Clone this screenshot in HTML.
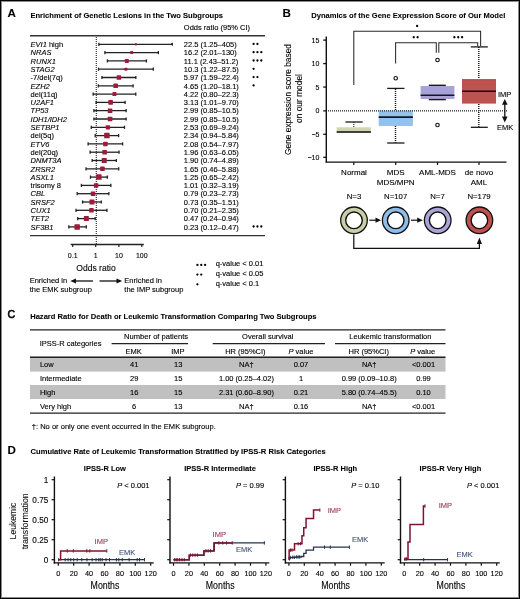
<!DOCTYPE html>
<html><head><meta charset="utf-8"><title>Figure</title>
<style>
html,body{margin:0;padding:0;background:#fff;}
body{width:520px;height:599px;position:relative;overflow:hidden;font-family:"Liberation Sans", sans-serif;}
#frame{position:absolute;left:0;top:0;width:518px;height:597px;border:1px solid #000;box-shadow:inset 0 0 0 1px #8c8c8c;}
svg{position:absolute;left:0;top:0;will-change:transform;}
text{font-family:"Liberation Sans", sans-serif;stroke-width:0.12px;}
</style></head><body>
<div id="frame"></div>
<svg width="520" height="599" viewBox="0 0 520 599">
<text x="7.5" y="17.0" font-size="11.6" font-weight="bold" font-style="normal" text-anchor="start" fill="#000" stroke="#000"  style="stroke-width:0.08px">A</text>
<text x="282.6" y="17.4" font-size="11.6" font-weight="bold" font-style="normal" text-anchor="start" fill="#000" stroke="#000"  style="stroke-width:0.08px">B</text>
<text x="7.6" y="318.0" font-size="11.7" font-weight="normal" font-style="normal" text-anchor="start" fill="#000" stroke="#000" style="stroke-width:0.6px" textLength="7.7" lengthAdjust="spacingAndGlyphs">C</text>
<text x="7.4" y="453.6" font-size="11.6" font-weight="bold" font-style="normal" text-anchor="start" fill="#000" stroke="#000"  style="stroke-width:0.08px">D</text>
<text x="30.4" y="17.5" font-size="7.6" font-weight="bold" font-style="normal" text-anchor="start" fill="#000" stroke="#000" textLength="192.6" lengthAdjust="spacingAndGlyphs" style="stroke-width:0.08px">Enrichment of Genetic Lesions in the Two Subgroups</text>
<text x="311.3" y="17.6" font-size="7.6" font-weight="bold" font-style="normal" text-anchor="start" fill="#000" stroke="#000" textLength="194" lengthAdjust="spacingAndGlyphs" style="stroke-width:0.08px">Dynamics of the Gene Expression Score of Our Model</text>
<text x="30.2" y="318.6" font-size="7.6" font-weight="bold" font-style="normal" text-anchor="start" fill="#000" stroke="#000" textLength="286.3" lengthAdjust="spacingAndGlyphs" style="stroke-width:0.08px">Hazard Ratio for Death or Leukemic Transformation Comparing Two Subgroups</text>
<text x="30.6" y="453.6" font-size="7.6" font-weight="bold" font-style="normal" text-anchor="start" fill="#000" stroke="#000" textLength="295" lengthAdjust="spacingAndGlyphs" style="stroke-width:0.08px">Cumulative Rate of Leukemic Transformation Stratified by IPSS-R Risk Categories</text>
<text x="183.8" y="30" font-size="7.5" font-weight="normal" font-style="normal" text-anchor="start" fill="#000" stroke="#000" >Odds ratio (95% CI)</text>
<line x1="30" y1="35.8" x2="265" y2="35.8" stroke="#333" stroke-width="1.4" />
<line x1="30" y1="235.6" x2="265" y2="235.6" stroke="#333" stroke-width="1.4" />
<line x1="96.3" y1="37" x2="96.3" y2="244" stroke="#222" stroke-width="1.1" stroke-dasharray="1 1"/>
<text x="30.6" y="47.05" font-size="7.5" fill="#000" stroke="#000"><tspan font-style="italic">EVI1</tspan><tspan font-style="normal"> high</tspan></text>
<text x="183.8" y="47.05" font-size="7.5" font-weight="normal" font-style="normal" text-anchor="start" fill="#000" stroke="#000" >22.5 (1.25–405)</text>
<circle cx="253.60" cy="43.90" r="1.15" fill="#000"/>
<circle cx="257.45" cy="43.90" r="1.15" fill="#000"/>
<line x1="98.86" y1="44.30" x2="172.92" y2="44.30" stroke="#222" stroke-width="1.3" />
<line x1="98.86" y1="42.70" x2="98.86" y2="45.90" stroke="#222" stroke-width="1.3" />
<path d="M170.12,44.30 L172.92,42.50 L172.92,46.10 Z" fill="#222"/>
<rect x="134.79" y="43.20" width="2.2" height="2.2" rx="0.6" fill="#9e1b3c"/>
<text x="30.6" y="55.35" font-size="7.5" fill="#000" stroke="#000"><tspan font-style="italic">NRAS</tspan></text>
<text x="183.8" y="55.35" font-size="7.5" font-weight="normal" font-style="normal" text-anchor="start" fill="#000" stroke="#000" >16.2 (2.01–130)</text>
<circle cx="253.60" cy="52.20" r="1.15" fill="#000"/>
<circle cx="257.45" cy="52.20" r="1.15" fill="#000"/>
<circle cx="261.30" cy="52.20" r="1.15" fill="#000"/>
<line x1="104.94" y1="52.60" x2="158.36" y2="52.60" stroke="#222" stroke-width="1.3" />
<line x1="104.94" y1="51.00" x2="104.94" y2="54.20" stroke="#222" stroke-width="1.3" />
<line x1="158.36" y1="51.00" x2="158.36" y2="54.20" stroke="#222" stroke-width="1.3" />
<rect x="130.18" y="51.10" width="3" height="3" rx="0.6" fill="#9e1b3c"/>
<text x="30.6" y="63.65" font-size="7.5" fill="#000" stroke="#000"><tspan font-style="italic">RUNX1</tspan></text>
<text x="183.8" y="63.65" font-size="7.5" font-weight="normal" font-style="normal" text-anchor="start" fill="#000" stroke="#000" >11.1 (2.43–51.2)</text>
<circle cx="253.60" cy="60.50" r="1.15" fill="#000"/>
<circle cx="257.45" cy="60.50" r="1.15" fill="#000"/>
<circle cx="261.30" cy="60.50" r="1.15" fill="#000"/>
<line x1="107.38" y1="60.90" x2="146.42" y2="60.90" stroke="#222" stroke-width="1.3" />
<line x1="107.38" y1="59.30" x2="107.38" y2="62.50" stroke="#222" stroke-width="1.3" />
<line x1="146.42" y1="59.30" x2="146.42" y2="62.50" stroke="#222" stroke-width="1.3" />
<rect x="124.84" y="58.90" width="4" height="4" rx="0.6" fill="#9e1b3c"/>
<text x="30.6" y="71.95" font-size="7.5" fill="#000" stroke="#000"><tspan font-style="italic">STAG2</tspan></text>
<text x="183.8" y="71.95" font-size="7.5" font-weight="normal" font-style="normal" text-anchor="start" fill="#000" stroke="#000" >10.3 (1.22–87.5)</text>
<circle cx="253.60" cy="68.80" r="1.15" fill="#000"/>
<line x1="98.55" y1="69.20" x2="153.29" y2="69.20" stroke="#222" stroke-width="1.3" />
<line x1="98.55" y1="67.60" x2="98.55" y2="70.80" stroke="#222" stroke-width="1.3" />
<line x1="153.29" y1="67.60" x2="153.29" y2="70.80" stroke="#222" stroke-width="1.3" />
<rect x="124.38" y="67.70" width="3" height="3" rx="0.6" fill="#9e1b3c"/>
<text x="30.6" y="80.25" font-size="7.5" fill="#000" stroke="#000"><tspan font-style="normal">-7/del(7q)</tspan></text>
<text x="183.8" y="80.25" font-size="7.5" font-weight="normal" font-style="normal" text-anchor="start" fill="#000" stroke="#000" >5.97 (1.59–22.4)</text>
<circle cx="253.60" cy="77.10" r="1.15" fill="#000"/>
<circle cx="257.45" cy="77.10" r="1.15" fill="#000"/>
<line x1="101.94" y1="77.50" x2="135.83" y2="77.50" stroke="#222" stroke-width="1.3" />
<line x1="101.94" y1="75.90" x2="101.94" y2="79.10" stroke="#222" stroke-width="1.3" />
<line x1="135.83" y1="75.90" x2="135.83" y2="79.10" stroke="#222" stroke-width="1.3" />
<rect x="116.64" y="75.25" width="4.5" height="4.5" rx="0.6" fill="#9e1b3c"/>
<text x="30.6" y="88.55" font-size="7.5" fill="#000" stroke="#000"><tspan font-style="italic">EZH2</tspan></text>
<text x="183.8" y="88.55" font-size="7.5" font-weight="normal" font-style="normal" text-anchor="start" fill="#000" stroke="#000" >4.65 (1.20–18.1)</text>
<circle cx="253.60" cy="85.40" r="1.15" fill="#000"/>
<line x1="98.34" y1="85.80" x2="133.10" y2="85.80" stroke="#222" stroke-width="1.3" />
<line x1="98.34" y1="84.20" x2="98.34" y2="87.40" stroke="#222" stroke-width="1.3" />
<line x1="133.10" y1="84.20" x2="133.10" y2="87.40" stroke="#222" stroke-width="1.3" />
<rect x="113.44" y="83.55" width="4.5" height="4.5" rx="0.6" fill="#9e1b3c"/>
<text x="30.6" y="96.85" font-size="7.5" fill="#000" stroke="#000"><tspan font-style="normal">del(11q)</tspan></text>
<text x="183.8" y="96.85" font-size="7.5" font-weight="normal" font-style="normal" text-anchor="start" fill="#000" stroke="#000" >4.22 (0.80–22.3)</text>
<line x1="93.14" y1="94.10" x2="135.77" y2="94.10" stroke="#222" stroke-width="1.3" />
<line x1="93.14" y1="92.50" x2="93.14" y2="95.70" stroke="#222" stroke-width="1.3" />
<line x1="135.77" y1="92.50" x2="135.77" y2="95.70" stroke="#222" stroke-width="1.3" />
<rect x="112.45" y="92.10" width="4" height="4" rx="0.6" fill="#9e1b3c"/>
<text x="30.6" y="105.15" font-size="7.5" fill="#000" stroke="#000"><tspan font-style="italic">U2AF1</tspan></text>
<text x="183.8" y="105.15" font-size="7.5" font-weight="normal" font-style="normal" text-anchor="start" fill="#000" stroke="#000" >3.13 (1.01–9.70)</text>
<line x1="96.13" y1="102.40" x2="125.11" y2="102.40" stroke="#222" stroke-width="1.3" />
<line x1="96.13" y1="100.80" x2="96.13" y2="104.00" stroke="#222" stroke-width="1.3" />
<line x1="125.11" y1="100.80" x2="125.11" y2="104.00" stroke="#222" stroke-width="1.3" />
<rect x="108.32" y="100.10" width="4.6" height="4.6" rx="0.6" fill="#9e1b3c"/>
<text x="30.6" y="113.45" font-size="7.5" fill="#000" stroke="#000"><tspan font-style="italic">TP53</tspan></text>
<text x="183.8" y="113.45" font-size="7.5" font-weight="normal" font-style="normal" text-anchor="start" fill="#000" stroke="#000" >2.99 (0.85–10.5)</text>
<line x1="93.92" y1="110.70" x2="126.13" y2="110.70" stroke="#222" stroke-width="1.3" />
<line x1="93.92" y1="109.10" x2="93.92" y2="112.30" stroke="#222" stroke-width="1.3" />
<line x1="126.13" y1="109.10" x2="126.13" y2="112.30" stroke="#222" stroke-width="1.3" />
<rect x="107.73" y="108.40" width="4.6" height="4.6" rx="0.6" fill="#9e1b3c"/>
<text x="30.6" y="121.75" font-size="7.5" fill="#000" stroke="#000"><tspan font-style="italic">IDH1/IDH2</tspan></text>
<text x="183.8" y="121.75" font-size="7.5" font-weight="normal" font-style="normal" text-anchor="start" fill="#000" stroke="#000" >2.99 (0.85–10.5)</text>
<line x1="93.92" y1="119.00" x2="126.13" y2="119.00" stroke="#222" stroke-width="1.3" />
<line x1="93.92" y1="117.40" x2="93.92" y2="120.60" stroke="#222" stroke-width="1.3" />
<line x1="126.13" y1="117.40" x2="126.13" y2="120.60" stroke="#222" stroke-width="1.3" />
<rect x="107.73" y="116.70" width="4.6" height="4.6" rx="0.6" fill="#9e1b3c"/>
<text x="30.6" y="130.05" font-size="7.5" fill="#000" stroke="#000"><tspan font-style="italic">SETBP1</tspan></text>
<text x="183.8" y="130.05" font-size="7.5" font-weight="normal" font-style="normal" text-anchor="start" fill="#000" stroke="#000" >2.53 (0.69–9.24)</text>
<line x1="91.25" y1="127.30" x2="124.49" y2="127.30" stroke="#222" stroke-width="1.3" />
<line x1="91.25" y1="125.70" x2="91.25" y2="128.90" stroke="#222" stroke-width="1.3" />
<line x1="124.49" y1="125.70" x2="124.49" y2="128.90" stroke="#222" stroke-width="1.3" />
<rect x="105.74" y="125.15" width="4.3" height="4.3" rx="0.6" fill="#9e1b3c"/>
<text x="30.6" y="138.35" font-size="7.5" fill="#000" stroke="#000"><tspan font-style="normal">del(5q)</tspan></text>
<text x="183.8" y="138.35" font-size="7.5" font-weight="normal" font-style="normal" text-anchor="start" fill="#000" stroke="#000" >2.34 (0.94–5.84)</text>
<line x1="95.21" y1="135.60" x2="118.61" y2="135.60" stroke="#222" stroke-width="1.3" />
<line x1="95.21" y1="134.00" x2="95.21" y2="137.20" stroke="#222" stroke-width="1.3" />
<line x1="118.61" y1="134.00" x2="118.61" y2="137.20" stroke="#222" stroke-width="1.3" />
<rect x="104.14" y="132.85" width="5.5" height="5.5" rx="0.6" fill="#9e1b3c"/>
<text x="30.6" y="146.65" font-size="7.5" fill="#000" stroke="#000"><tspan font-style="italic">ETV6</tspan></text>
<text x="183.8" y="146.65" font-size="7.5" font-weight="normal" font-style="normal" text-anchor="start" fill="#000" stroke="#000" >2.08 (0.54–7.97)</text>
<line x1="88.11" y1="143.90" x2="122.59" y2="143.90" stroke="#222" stroke-width="1.3" />
<line x1="88.11" y1="142.30" x2="88.11" y2="145.50" stroke="#222" stroke-width="1.3" />
<line x1="122.59" y1="142.30" x2="122.59" y2="145.50" stroke="#222" stroke-width="1.3" />
<rect x="103.13" y="141.65" width="4.5" height="4.5" rx="0.6" fill="#9e1b3c"/>
<text x="30.6" y="154.95" font-size="7.5" fill="#000" stroke="#000"><tspan font-style="normal">del(20q)</tspan></text>
<text x="183.8" y="154.95" font-size="7.5" font-weight="normal" font-style="normal" text-anchor="start" fill="#000" stroke="#000" >1.96 (0.63–6.05)</text>
<line x1="90.08" y1="152.20" x2="119.06" y2="152.20" stroke="#222" stroke-width="1.3" />
<line x1="90.08" y1="150.60" x2="90.08" y2="153.80" stroke="#222" stroke-width="1.3" />
<line x1="119.06" y1="150.60" x2="119.06" y2="153.80" stroke="#222" stroke-width="1.3" />
<rect x="102.32" y="149.90" width="4.6" height="4.6" rx="0.6" fill="#9e1b3c"/>
<text x="30.6" y="163.25" font-size="7.5" fill="#000" stroke="#000"><tspan font-style="italic">DNMT3A</tspan></text>
<text x="183.8" y="163.25" font-size="7.5" font-weight="normal" font-style="normal" text-anchor="start" fill="#000" stroke="#000" >1.90 (0.74–4.89)</text>
<line x1="92.14" y1="160.50" x2="116.33" y2="160.50" stroke="#222" stroke-width="1.3" />
<line x1="92.14" y1="158.90" x2="92.14" y2="162.10" stroke="#222" stroke-width="1.3" />
<line x1="116.33" y1="158.90" x2="116.33" y2="162.10" stroke="#222" stroke-width="1.3" />
<rect x="101.72" y="158.00" width="5" height="5" rx="0.6" fill="#9e1b3c"/>
<text x="30.6" y="171.55" font-size="7.5" fill="#000" stroke="#000"><tspan font-style="italic">ZRSR2</tspan></text>
<text x="183.8" y="171.55" font-size="7.5" font-weight="normal" font-style="normal" text-anchor="start" fill="#000" stroke="#000" >1.65 (0.46–5.88)</text>
<line x1="86.05" y1="168.80" x2="118.70" y2="168.80" stroke="#222" stroke-width="1.3" />
<line x1="86.05" y1="167.20" x2="86.05" y2="170.40" stroke="#222" stroke-width="1.3" />
<line x1="118.70" y1="167.20" x2="118.70" y2="170.40" stroke="#222" stroke-width="1.3" />
<rect x="100.17" y="166.55" width="4.5" height="4.5" rx="0.6" fill="#9e1b3c"/>
<text x="30.6" y="179.85" font-size="7.5" fill="#000" stroke="#000"><tspan font-style="italic">ASXL1</tspan></text>
<text x="183.8" y="179.85" font-size="7.5" font-weight="normal" font-style="normal" text-anchor="start" fill="#000" stroke="#000" >1.25 (0.65–2.42)</text>
<line x1="90.48" y1="177.10" x2="107.32" y2="177.10" stroke="#222" stroke-width="1.3" />
<line x1="90.48" y1="175.50" x2="90.48" y2="178.70" stroke="#222" stroke-width="1.3" />
<line x1="107.32" y1="175.50" x2="107.32" y2="178.70" stroke="#222" stroke-width="1.3" />
<rect x="96.11" y="174.35" width="5.5" height="5.5" rx="0.6" fill="#9e1b3c"/>
<text x="30.6" y="188.15" font-size="7.5" fill="#000" stroke="#000"><tspan font-style="normal">trisomy 8</tspan></text>
<text x="183.8" y="188.15" font-size="7.5" font-weight="normal" font-style="normal" text-anchor="start" fill="#000" stroke="#000" >1.01 (0.32–3.19)</text>
<line x1="81.40" y1="185.40" x2="110.86" y2="185.40" stroke="#222" stroke-width="1.3" />
<line x1="81.40" y1="183.80" x2="81.40" y2="187.00" stroke="#222" stroke-width="1.3" />
<line x1="110.86" y1="183.80" x2="110.86" y2="187.00" stroke="#222" stroke-width="1.3" />
<rect x="93.88" y="183.15" width="4.5" height="4.5" rx="0.6" fill="#9e1b3c"/>
<text x="30.6" y="196.45" font-size="7.5" fill="#000" stroke="#000"><tspan font-style="italic">CBL</tspan></text>
<text x="183.8" y="196.45" font-size="7.5" font-weight="normal" font-style="normal" text-anchor="start" fill="#000" stroke="#000" >0.79 (0.23–2.73)</text>
<line x1="77.17" y1="193.70" x2="108.87" y2="193.70" stroke="#222" stroke-width="1.3" />
<line x1="77.17" y1="192.10" x2="77.17" y2="195.30" stroke="#222" stroke-width="1.3" />
<line x1="108.87" y1="192.10" x2="108.87" y2="195.30" stroke="#222" stroke-width="1.3" />
<rect x="90.73" y="191.45" width="4.5" height="4.5" rx="0.6" fill="#9e1b3c"/>
<text x="30.6" y="204.75" font-size="7.5" fill="#000" stroke="#000"><tspan font-style="italic">SRSF2</tspan></text>
<text x="183.8" y="204.75" font-size="7.5" font-weight="normal" font-style="normal" text-anchor="start" fill="#000" stroke="#000" >0.73 (0.35–1.51)</text>
<line x1="82.55" y1="202.00" x2="101.28" y2="202.00" stroke="#222" stroke-width="1.3" />
<line x1="82.55" y1="200.40" x2="82.55" y2="203.60" stroke="#222" stroke-width="1.3" />
<line x1="101.28" y1="200.40" x2="101.28" y2="203.60" stroke="#222" stroke-width="1.3" />
<rect x="89.47" y="199.50" width="5" height="5" rx="0.6" fill="#9e1b3c"/>
<text x="30.6" y="213.05" font-size="7.5" fill="#000" stroke="#000"><tspan font-style="italic">CUX1</tspan></text>
<text x="183.8" y="213.05" font-size="7.5" font-weight="normal" font-style="normal" text-anchor="start" fill="#000" stroke="#000" >0.70 (0.21–2.35)</text>
<line x1="76.01" y1="210.30" x2="106.95" y2="210.30" stroke="#222" stroke-width="1.3" />
<line x1="76.01" y1="208.70" x2="76.01" y2="211.90" stroke="#222" stroke-width="1.3" />
<line x1="106.95" y1="208.70" x2="106.95" y2="211.90" stroke="#222" stroke-width="1.3" />
<rect x="89.18" y="208.05" width="4.5" height="4.5" rx="0.6" fill="#9e1b3c"/>
<text x="30.6" y="221.35" font-size="7.5" fill="#000" stroke="#000"><tspan font-style="italic">TET2</tspan></text>
<text x="183.8" y="221.35" font-size="7.5" font-weight="normal" font-style="normal" text-anchor="start" fill="#000" stroke="#000" >0.47 (0.24–0.94)</text>
<line x1="77.72" y1="218.60" x2="95.21" y2="218.60" stroke="#222" stroke-width="1.3" />
<line x1="77.72" y1="217.00" x2="77.72" y2="220.20" stroke="#222" stroke-width="1.3" />
<line x1="95.21" y1="217.00" x2="95.21" y2="220.20" stroke="#222" stroke-width="1.3" />
<rect x="83.83" y="216.10" width="5" height="5" rx="0.6" fill="#9e1b3c"/>
<text x="30.6" y="229.65" font-size="7.5" fill="#000" stroke="#000"><tspan font-style="italic">SF3B1</tspan></text>
<text x="183.8" y="229.65" font-size="7.5" font-weight="normal" font-style="normal" text-anchor="start" fill="#000" stroke="#000" >0.23 (0.12–0.47)</text>
<circle cx="253.60" cy="226.50" r="1.15" fill="#000"/>
<circle cx="257.45" cy="226.50" r="1.15" fill="#000"/>
<circle cx="261.30" cy="226.50" r="1.15" fill="#000"/>
<line x1="68.84" y1="226.90" x2="86.33" y2="226.90" stroke="#222" stroke-width="1.3" />
<line x1="68.84" y1="225.30" x2="68.84" y2="228.50" stroke="#222" stroke-width="1.3" />
<line x1="86.33" y1="225.30" x2="86.33" y2="228.50" stroke="#222" stroke-width="1.3" />
<rect x="74.42" y="224.15" width="5.5" height="5.5" rx="0.6" fill="#9e1b3c"/>
<line x1="70.7" y1="244.5" x2="143.8" y2="244.5" stroke="#222" stroke-width="1.3" />
<line x1="72.7" y1="244" x2="72.7" y2="247" stroke="#222" stroke-width="1.2" />
<text x="72.7" y="257.6" font-size="7" font-weight="normal" font-style="normal" text-anchor="middle" fill="#000" stroke="#000" >0.1</text>
<line x1="95.7" y1="244" x2="95.7" y2="247" stroke="#222" stroke-width="1.2" />
<text x="95.7" y="257.6" font-size="7" font-weight="normal" font-style="normal" text-anchor="middle" fill="#000" stroke="#000" >1</text>
<line x1="118.9" y1="244" x2="118.9" y2="247" stroke="#222" stroke-width="1.2" />
<text x="118.9" y="257.6" font-size="7" font-weight="normal" font-style="normal" text-anchor="middle" fill="#000" stroke="#000" >10</text>
<line x1="141.8" y1="244" x2="141.8" y2="247" stroke="#222" stroke-width="1.2" />
<text x="141.8" y="257.6" font-size="7" font-weight="normal" font-style="normal" text-anchor="middle" fill="#000" stroke="#000" >100</text>
<text x="96" y="271.1" font-size="9.8" font-weight="normal" font-style="normal" text-anchor="middle" fill="#000" stroke="#000" textLength="39.5" lengthAdjust="spacingAndGlyphs">Odds ratio</text>
<text x="29.7" y="283.2" font-size="7.5" font-weight="normal" font-style="normal" text-anchor="start" fill="#000" stroke="#000" >Enriched in</text>
<text x="29.7" y="292.1" font-size="7.5" font-weight="normal" font-style="normal" text-anchor="start" fill="#000" stroke="#000" >the EMK subgroup</text>
<text x="124.3" y="283.2" font-size="7.5" font-weight="normal" font-style="normal" text-anchor="start" fill="#000" stroke="#000" >Enriched in</text>
<text x="124.3" y="292.1" font-size="7.5" font-weight="normal" font-style="normal" text-anchor="start" fill="#000" stroke="#000" >the IMP subgroup</text>
<line x1="74" y1="281" x2="93" y2="281" stroke="#111" stroke-width="1.3" />
<path d="M70.3,281 L76,278.6 L76,283.4 Z" fill="#111"/>
<line x1="99.5" y1="281" x2="118.5" y2="281" stroke="#111" stroke-width="1.3" />
<path d="M122.2,281 L116.5,278.6 L116.5,283.4 Z" fill="#111"/>
<circle cx="197.40" cy="264.90" r="1.15" fill="#000"/>
<circle cx="201.25" cy="264.90" r="1.15" fill="#000"/>
<circle cx="205.10" cy="264.90" r="1.15" fill="#000"/>
<text x="215.7" y="266.3" font-size="7.5" font-weight="normal" font-style="normal" text-anchor="start" fill="#000" stroke="#000" >q-value &lt; 0.01</text>
<circle cx="197.40" cy="274.60" r="1.15" fill="#000"/>
<circle cx="201.25" cy="274.60" r="1.15" fill="#000"/>
<text x="215.7" y="276.0" font-size="7.5" font-weight="normal" font-style="normal" text-anchor="start" fill="#000" stroke="#000" >q-value &lt; 0.05</text>
<circle cx="197.40" cy="284.30" r="1.15" fill="#000"/>
<text x="215.7" y="285.7" font-size="7.5" font-weight="normal" font-style="normal" text-anchor="start" fill="#000" stroke="#000" >q-value &lt; 0.1</text>
<line x1="326.3" y1="36.5" x2="326.3" y2="162.4" stroke="#111" stroke-width="1.4" />
<line x1="323.2" y1="40.10" x2="326.3" y2="40.10" stroke="#111" stroke-width="1.3" />
<text x="319.4" y="42.60" font-size="7" font-weight="normal" font-style="normal" text-anchor="end" fill="#000" stroke="#000" >15</text>
<line x1="323.2" y1="63.60" x2="326.3" y2="63.60" stroke="#111" stroke-width="1.3" />
<text x="319.4" y="66.10" font-size="7" font-weight="normal" font-style="normal" text-anchor="end" fill="#000" stroke="#000" >10</text>
<line x1="323.2" y1="87.10" x2="326.3" y2="87.10" stroke="#111" stroke-width="1.3" />
<text x="319.4" y="89.60" font-size="7" font-weight="normal" font-style="normal" text-anchor="end" fill="#000" stroke="#000" >5</text>
<line x1="323.2" y1="110.85" x2="326.3" y2="110.85" stroke="#111" stroke-width="1.3" />
<text x="319.4" y="113.35" font-size="7" font-weight="normal" font-style="normal" text-anchor="end" fill="#000" stroke="#000" >0</text>
<line x1="323.2" y1="134.30" x2="326.3" y2="134.30" stroke="#111" stroke-width="1.3" />
<text x="319.4" y="136.80" font-size="7" font-weight="normal" font-style="normal" text-anchor="end" fill="#000" stroke="#000" >−5</text>
<line x1="323.2" y1="157.30" x2="326.3" y2="157.30" stroke="#111" stroke-width="1.3" />
<text x="319.4" y="159.80" font-size="7" font-weight="normal" font-style="normal" text-anchor="end" fill="#000" stroke="#000" >−10</text>
<line x1="325.6" y1="162.1" x2="506.5" y2="162.1" stroke="#111" stroke-width="1.4" />
<line x1="353.8" y1="162" x2="353.8" y2="165" stroke="#111" stroke-width="1.2" />
<line x1="395.7" y1="162" x2="395.7" y2="165" stroke="#111" stroke-width="1.2" />
<line x1="437.5" y1="162" x2="437.5" y2="165" stroke="#111" stroke-width="1.2" />
<line x1="479.0" y1="162" x2="479.0" y2="165" stroke="#111" stroke-width="1.2" />
<text transform="translate(291.2,99.5) rotate(-90)" font-size="8.4" text-anchor="middle" fill="#000" stroke="#000" textLength="111" lengthAdjust="spacingAndGlyphs">Gene expression score based</text>
<text transform="translate(302.3,98.5) rotate(-90)" font-size="8.4" text-anchor="middle" fill="#000" stroke="#000">on our model</text>
<line x1="353.8" y1="122" x2="353.8" y2="127" stroke="#222" stroke-width="1.1" stroke-dasharray="1 1"/>
<line x1="345.4" y1="122.0" x2="362.7" y2="122.0" stroke="#1a1a1a" stroke-width="1.3" />
<rect x="336.7" y="127.0" width="34.2" height="5.8" fill="#cfd3ad" />
<rect x="336.7" y="127.0" width="34.2" height="1.2" fill="#dfe2c6" />
<line x1="336.7" y1="132.1" x2="370.9" y2="132.1" stroke="#111" stroke-width="1.5" />
<line x1="395.5" y1="89" x2="395.5" y2="110" stroke="#111" stroke-width="1.45" stroke-dasharray="1 1"/>
<line x1="395.5" y1="126" x2="395.5" y2="143" stroke="#111" stroke-width="1.45" stroke-dasharray="1 1"/>
<rect x="378.7" y="110.5" width="34.2" height="15.5" fill="#95c2ec" />
<line x1="378.7" y1="117.1" x2="412.9" y2="117.1" stroke="#0d1a2a" stroke-width="1.6" />
<line x1="387.2" y1="88.4" x2="404.5" y2="88.4" stroke="#1a1a1a" stroke-width="1.3" />
<line x1="387.2" y1="143.0" x2="404.5" y2="143.0" stroke="#1a1a1a" stroke-width="1.3" />
<circle cx="395.7" cy="78.2" r="1.75" fill="none" stroke="#111" stroke-width="1.15"/>
<rect x="420.6" y="86.0" width="33.8" height="13.0" fill="#a9a2d6" />
<line x1="420.6" y1="95.2" x2="454.4" y2="95.2" stroke="#111530" stroke-width="1.6" />
<line x1="428.8" y1="85.3" x2="445.8" y2="85.3" stroke="#1a1a1a" stroke-width="1.4" />
<line x1="428.8" y1="99.6" x2="445.8" y2="99.6" stroke="#1a1a1a" stroke-width="1.4" />
<circle cx="437.5" cy="60" r="1.75" fill="none" stroke="#111" stroke-width="1.15"/>
<circle cx="437.5" cy="125" r="1.75" fill="none" stroke="#111" stroke-width="1.15"/>
<line x1="478.8" y1="47" x2="478.8" y2="79" stroke="#111" stroke-width="1.45" stroke-dasharray="1 1"/>
<line x1="478.8" y1="104" x2="478.8" y2="127" stroke="#111" stroke-width="1.45" stroke-dasharray="1 1"/>
<rect x="462" y="79.3" width="34" height="24.3" fill="#bd5350" />
<line x1="462" y1="79.8" x2="496" y2="79.8" stroke="#a84a48" stroke-width="1" />
<line x1="462" y1="91.2" x2="496" y2="91.2" stroke="#1a0a0a" stroke-width="1.6" />
<line x1="470.8" y1="46.9" x2="487.8" y2="46.9" stroke="#1a1a1a" stroke-width="1.3" />
<line x1="470.8" y1="127.3" x2="487.8" y2="127.3" stroke="#1a1a1a" stroke-width="1.3" />
<line x1="328" y1="110.85" x2="507" y2="110.85" stroke="#222" stroke-width="1.3" stroke-dasharray="1 1"/>
<path d="M353.8,85 L353.8,31.2 L480.6,31.2 L480.6,46" fill="none" stroke="#2a2a2a" stroke-width="1.05"/>
<path d="M395.6,63.5 L395.6,42.7 L436.3,42.7 L436.3,52.7" fill="none" stroke="#2a2a2a" stroke-width="1.05"/>
<path d="M438.8,52.7 L438.8,42.7 L477.7,42.7 L477.7,46" fill="none" stroke="#2a2a2a" stroke-width="1.05"/>
<circle cx="417.10" cy="26.00" r="1.15" fill="#000"/>
<circle cx="413.75" cy="37.25" r="1.15" fill="#000"/>
<circle cx="417.60" cy="37.25" r="1.15" fill="#000"/>
<circle cx="454.40" cy="37.25" r="1.15" fill="#000"/>
<circle cx="458.25" cy="37.25" r="1.15" fill="#000"/>
<circle cx="462.10" cy="37.25" r="1.15" fill="#000"/>
<text x="498" y="97" font-size="7.5" font-weight="normal" font-style="normal" text-anchor="start" fill="#000" stroke="#000" >IMP</text>
<text x="497" y="129.6" font-size="7.5" font-weight="normal" font-style="normal" text-anchor="start" fill="#000" stroke="#000" >EMK</text>
<line x1="504.8" y1="103" x2="504.8" y2="118" stroke="#111" stroke-width="1.3" />
<path d="M504.8,99 L502,104.8 L507.6,104.8 Z" fill="#111"/>
<path d="M504.8,122.4 L502,116.6 L507.6,116.6 Z" fill="#111"/>
<text x="354" y="175.2" font-size="8" font-weight="normal" font-style="normal" text-anchor="middle" fill="#000" stroke="#000" >Normal</text>
<text x="395.7" y="175.2" font-size="8" font-weight="normal" font-style="normal" text-anchor="middle" fill="#000" stroke="#000" >MDS</text>
<text x="395.7" y="185.3" font-size="8" font-weight="normal" font-style="normal" text-anchor="middle" fill="#000" stroke="#000" >MDS/MPN</text>
<text x="437.5" y="175.2" font-size="8" font-weight="normal" font-style="normal" text-anchor="middle" fill="#000" stroke="#000" >AML-MDS</text>
<text x="479" y="175.2" font-size="8" font-weight="normal" font-style="normal" text-anchor="middle" fill="#000" stroke="#000" >de novo</text>
<text x="479" y="185.3" font-size="8" font-weight="normal" font-style="normal" text-anchor="middle" fill="#000" stroke="#000" >AML</text>
<text x="354" y="198.6" font-size="7.8" font-weight="normal" font-style="normal" text-anchor="middle" fill="#000" stroke="#000" >N=3</text>
<text x="395.7" y="198.6" font-size="7.8" font-weight="normal" font-style="normal" text-anchor="middle" fill="#000" stroke="#000" >N=107</text>
<text x="437.5" y="198.6" font-size="7.8" font-weight="normal" font-style="normal" text-anchor="middle" fill="#000" stroke="#000" >N=7</text>
<text x="479" y="198.6" font-size="7.8" font-weight="normal" font-style="normal" text-anchor="middle" fill="#000" stroke="#000" >N=179</text>
<circle cx="354" cy="220.3" r="13.3" fill="#c8cea6" stroke="#111" stroke-width="1.3"/>
<circle cx="354" cy="220.3" r="8.3" fill="#fff" stroke="#111" stroke-width="1.4"/>
<circle cx="395.7" cy="220.3" r="13.3" fill="#8fbde9" stroke="#111" stroke-width="1.3"/>
<circle cx="395.7" cy="220.3" r="8.3" fill="#fff" stroke="#111" stroke-width="1.4"/>
<circle cx="437.7" cy="220.3" r="13.3" fill="#aaa4d8" stroke="#111" stroke-width="1.3"/>
<circle cx="437.7" cy="220.3" r="8.3" fill="#fff" stroke="#111" stroke-width="1.4"/>
<circle cx="479.4" cy="220.3" r="13.3" fill="#c0504d" stroke="#111" stroke-width="1.3"/>
<circle cx="479.4" cy="220.3" r="8.3" fill="#fff" stroke="#111" stroke-width="1.4"/>
<line x1="369.3" y1="220.2" x2="377.3" y2="220.2" stroke="#111" stroke-width="1.2" />
<path d="M381.1,220.2 L375.5,217.6 L375.5,222.8 Z" fill="#111"/>
<line x1="411" y1="220.2" x2="419" y2="220.2" stroke="#111" stroke-width="1.2" />
<path d="M422.8,220.2 L417.2,217.6 L417.2,222.8 Z" fill="#111"/>
<path d="M353.8,234.4 L353.8,248.4 L479.4,248.4 L479.4,243" fill="none" stroke="#111" stroke-width="1.25"/>
<path d="M479.4,237.6 L476.8,244 L482,244 Z" fill="#111"/>
<line x1="30" y1="329.8" x2="445.5" y2="329.8" stroke="#222" stroke-width="1.3" />
<line x1="30" y1="357.2" x2="445.5" y2="357.2" stroke="#111" stroke-width="1.6" />
<line x1="30" y1="413.1" x2="445.5" y2="413.1" stroke="#222" stroke-width="1.3" />
<rect x="30" y="357.9" width="415.5" height="13.7" fill="#c0c0c0" />
<rect x="30" y="385" width="415.5" height="14.0" fill="#c0c0c0" />
<line x1="111.6" y1="343.6" x2="188" y2="343.6" stroke="#222" stroke-width="1.1" />
<line x1="212.7" y1="343.6" x2="325" y2="343.6" stroke="#222" stroke-width="1.1" />
<line x1="335" y1="343.6" x2="445.5" y2="343.6" stroke="#222" stroke-width="1.1" />
<text x="39.7" y="346.3" font-size="7.5" font-weight="normal" font-style="normal" text-anchor="start" fill="#000" stroke="#000" >IPSS-R categories</text>
<text x="156.1" y="339" font-size="7.5" font-weight="normal" font-style="normal" text-anchor="middle" fill="#000" stroke="#000" textLength="64" lengthAdjust="spacingAndGlyphs">Number of patients</text>
<text x="267.7" y="339" font-size="7.5" font-weight="normal" font-style="normal" text-anchor="middle" fill="#000" stroke="#000" >Overall survival</text>
<text x="390.4" y="339" font-size="7.5" font-weight="normal" font-style="normal" text-anchor="middle" fill="#000" stroke="#000" >Leukemic transformation</text>
<text x="133.7" y="354.3" font-size="7.5" font-weight="normal" font-style="normal" text-anchor="middle" fill="#000" stroke="#000" >EMK</text>
<text x="177.8" y="354.3" font-size="7.5" font-weight="normal" font-style="normal" text-anchor="middle" fill="#000" stroke="#000" >IMP</text>
<text x="245.4" y="354.3" font-size="7.5" font-weight="normal" font-style="normal" text-anchor="middle" fill="#000" stroke="#000" >HR (95%CI)</text>
<text x="301" y="354.3" font-size="7.5" text-anchor="middle" fill="#000" stroke="#000"><tspan font-style="italic">P</tspan> value</text>
<text x="368.7" y="354.3" font-size="7.5" font-weight="normal" font-style="normal" text-anchor="middle" fill="#000" stroke="#000" >HR (95%CI)</text>
<text x="422.7" y="354.3" font-size="7.5" text-anchor="middle" fill="#000" stroke="#000"><tspan font-style="italic">P</tspan> value</text>
<text x="39.9" y="367.1" font-size="7.5" font-weight="normal" font-style="normal" text-anchor="start" fill="#000" stroke="#000" >Low</text>
<text x="134.2" y="367.1" font-size="7.5" font-weight="normal" font-style="normal" text-anchor="middle" fill="#000" stroke="#000" >41</text>
<text x="178.2" y="367.1" font-size="7.5" font-weight="normal" font-style="normal" text-anchor="middle" fill="#000" stroke="#000" >13</text>
<text x="246.4" y="367.1" font-size="7.5" font-weight="normal" font-style="normal" text-anchor="middle" fill="#000" stroke="#000" >NA†</text>
<text x="301" y="367.1" font-size="7.5" font-weight="normal" font-style="normal" text-anchor="middle" fill="#000" stroke="#000" >0.07</text>
<text x="369.2" y="367.1" font-size="7.5" font-weight="normal" font-style="normal" text-anchor="middle" fill="#000" stroke="#000" >NA†</text>
<text x="423.5" y="367.1" font-size="7.5" font-weight="normal" font-style="normal" text-anchor="middle" fill="#000" stroke="#000" >&lt;0.001</text>
<text x="39.9" y="381.0" font-size="7.5" font-weight="normal" font-style="normal" text-anchor="start" fill="#000" stroke="#000" >Intermediate</text>
<text x="134.2" y="381.0" font-size="7.5" font-weight="normal" font-style="normal" text-anchor="middle" fill="#000" stroke="#000" >29</text>
<text x="178.2" y="381.0" font-size="7.5" font-weight="normal" font-style="normal" text-anchor="middle" fill="#000" stroke="#000" >15</text>
<text x="246.4" y="381.0" font-size="7.5" font-weight="normal" font-style="normal" text-anchor="middle" fill="#000" stroke="#000" >1.00 (0.25–4.02)</text>
<text x="301" y="381.0" font-size="7.5" font-weight="normal" font-style="normal" text-anchor="middle" fill="#000" stroke="#000" >1</text>
<text x="369.2" y="381.0" font-size="7.5" font-weight="normal" font-style="normal" text-anchor="middle" fill="#000" stroke="#000" >0.99 (0.09–10.8)</text>
<text x="423.5" y="381.0" font-size="7.5" font-weight="normal" font-style="normal" text-anchor="middle" fill="#000" stroke="#000" >0.99</text>
<text x="39.9" y="394.9" font-size="7.5" font-weight="normal" font-style="normal" text-anchor="start" fill="#000" stroke="#000" >High</text>
<text x="134.2" y="394.9" font-size="7.5" font-weight="normal" font-style="normal" text-anchor="middle" fill="#000" stroke="#000" >16</text>
<text x="178.2" y="394.9" font-size="7.5" font-weight="normal" font-style="normal" text-anchor="middle" fill="#000" stroke="#000" >15</text>
<text x="246.4" y="394.9" font-size="7.5" font-weight="normal" font-style="normal" text-anchor="middle" fill="#000" stroke="#000" >2.31 (0.60–8.90)</text>
<text x="301" y="394.9" font-size="7.5" font-weight="normal" font-style="normal" text-anchor="middle" fill="#000" stroke="#000" >0.21</text>
<text x="369.2" y="394.9" font-size="7.5" font-weight="normal" font-style="normal" text-anchor="middle" fill="#000" stroke="#000" >5.80 (0.74–45.5)</text>
<text x="423.5" y="394.9" font-size="7.5" font-weight="normal" font-style="normal" text-anchor="middle" fill="#000" stroke="#000" >0.10</text>
<text x="39.9" y="408.8" font-size="7.5" font-weight="normal" font-style="normal" text-anchor="start" fill="#000" stroke="#000" >Very high</text>
<text x="134.2" y="408.8" font-size="7.5" font-weight="normal" font-style="normal" text-anchor="middle" fill="#000" stroke="#000" >6</text>
<text x="178.2" y="408.8" font-size="7.5" font-weight="normal" font-style="normal" text-anchor="middle" fill="#000" stroke="#000" >13</text>
<text x="246.4" y="408.8" font-size="7.5" font-weight="normal" font-style="normal" text-anchor="middle" fill="#000" stroke="#000" >NA†</text>
<text x="301" y="408.8" font-size="7.5" font-weight="normal" font-style="normal" text-anchor="middle" fill="#000" stroke="#000" >0.16</text>
<text x="369.2" y="408.8" font-size="7.5" font-weight="normal" font-style="normal" text-anchor="middle" fill="#000" stroke="#000" >NA†</text>
<text x="423.5" y="408.8" font-size="7.5" font-weight="normal" font-style="normal" text-anchor="middle" fill="#000" stroke="#000" >&lt;0.001</text>
<text x="31.8" y="428.5" font-size="7.5" font-weight="normal" font-style="normal" text-anchor="start" fill="#000" stroke="#000" textLength="184" lengthAdjust="spacingAndGlyphs">†: No or only one event occurred in the EMK subgroup.</text>
<text x="83.8" y="471.4" font-size="7.5" font-weight="bold" font-style="normal" text-anchor="start" fill="#000" stroke="#000"  style="stroke-width:0.08px">IPSS-R Low</text>
<text x="117.2" y="488.2" font-size="7.5" fill="#000" stroke="#000"><tspan font-style="italic">P</tspan> &lt; 0.001</text>
<line x1="54.4" y1="476.5" x2="54.4" y2="563.5" stroke="#111" stroke-width="1.4" />
<line x1="53.699999999999996" y1="562.9" x2="153.7" y2="562.9" stroke="#111" stroke-width="1.4" />
<line x1="51.6" y1="559.70" x2="54.4" y2="559.70" stroke="#111" stroke-width="1.2" />
<line x1="51.6" y1="539.70" x2="54.4" y2="539.70" stroke="#111" stroke-width="1.2" />
<line x1="51.6" y1="519.70" x2="54.4" y2="519.70" stroke="#111" stroke-width="1.2" />
<line x1="51.6" y1="499.70" x2="54.4" y2="499.70" stroke="#111" stroke-width="1.2" />
<line x1="51.6" y1="479.70" x2="54.4" y2="479.70" stroke="#111" stroke-width="1.2" />
<line x1="58.30" y1="563" x2="58.30" y2="565.8" stroke="#111" stroke-width="1.2" />
<text x="58.30" y="575.8" font-size="7.3" font-weight="normal" font-style="normal" text-anchor="middle" fill="#000" stroke="#000" >0</text>
<line x1="73.70" y1="563" x2="73.70" y2="565.8" stroke="#111" stroke-width="1.2" />
<text x="73.70" y="575.8" font-size="7.3" font-weight="normal" font-style="normal" text-anchor="middle" fill="#000" stroke="#000" >20</text>
<line x1="89.10" y1="563" x2="89.10" y2="565.8" stroke="#111" stroke-width="1.2" />
<text x="89.10" y="575.8" font-size="7.3" font-weight="normal" font-style="normal" text-anchor="middle" fill="#000" stroke="#000" >40</text>
<line x1="104.50" y1="563" x2="104.50" y2="565.8" stroke="#111" stroke-width="1.2" />
<text x="104.50" y="575.8" font-size="7.3" font-weight="normal" font-style="normal" text-anchor="middle" fill="#000" stroke="#000" >60</text>
<line x1="119.90" y1="563" x2="119.90" y2="565.8" stroke="#111" stroke-width="1.2" />
<text x="119.90" y="575.8" font-size="7.3" font-weight="normal" font-style="normal" text-anchor="middle" fill="#000" stroke="#000" >80</text>
<line x1="135.30" y1="563" x2="135.30" y2="565.8" stroke="#111" stroke-width="1.2" />
<text x="135.30" y="575.8" font-size="7.3" font-weight="normal" font-style="normal" text-anchor="middle" fill="#000" stroke="#000" >100</text>
<line x1="150.70" y1="563" x2="150.70" y2="565.8" stroke="#111" stroke-width="1.2" />
<text x="150.70" y="575.8" font-size="7.3" font-weight="normal" font-style="normal" text-anchor="middle" fill="#000" stroke="#000" >120</text>
<text x="105.00" y="589.4" font-size="10.4" font-weight="normal" font-style="normal" text-anchor="middle" fill="#000" stroke="#000" textLength="28.8" lengthAdjust="spacingAndGlyphs">Months</text>
<text x="184.2" y="471.4" font-size="7.5" font-weight="bold" font-style="normal" text-anchor="start" fill="#000" stroke="#000"  style="stroke-width:0.08px">IPSS-R Intermediate</text>
<text x="236" y="488.2" font-size="7.5" fill="#000" stroke="#000"><tspan font-style="italic">P</tspan> = 0.99</text>
<line x1="170.0" y1="476.5" x2="170.0" y2="563.5" stroke="#111" stroke-width="1.4" />
<line x1="169.3" y1="562.9" x2="269.3" y2="562.9" stroke="#111" stroke-width="1.4" />
<line x1="167.2" y1="559.70" x2="170.0" y2="559.70" stroke="#111" stroke-width="1.2" />
<line x1="167.2" y1="539.70" x2="170.0" y2="539.70" stroke="#111" stroke-width="1.2" />
<line x1="167.2" y1="519.70" x2="170.0" y2="519.70" stroke="#111" stroke-width="1.2" />
<line x1="167.2" y1="499.70" x2="170.0" y2="499.70" stroke="#111" stroke-width="1.2" />
<line x1="167.2" y1="479.70" x2="170.0" y2="479.70" stroke="#111" stroke-width="1.2" />
<line x1="173.50" y1="563" x2="173.50" y2="565.8" stroke="#111" stroke-width="1.2" />
<text x="173.50" y="575.8" font-size="7.3" font-weight="normal" font-style="normal" text-anchor="middle" fill="#000" stroke="#000" >0</text>
<line x1="188.90" y1="563" x2="188.90" y2="565.8" stroke="#111" stroke-width="1.2" />
<text x="188.90" y="575.8" font-size="7.3" font-weight="normal" font-style="normal" text-anchor="middle" fill="#000" stroke="#000" >20</text>
<line x1="204.30" y1="563" x2="204.30" y2="565.8" stroke="#111" stroke-width="1.2" />
<text x="204.30" y="575.8" font-size="7.3" font-weight="normal" font-style="normal" text-anchor="middle" fill="#000" stroke="#000" >40</text>
<line x1="219.70" y1="563" x2="219.70" y2="565.8" stroke="#111" stroke-width="1.2" />
<text x="219.70" y="575.8" font-size="7.3" font-weight="normal" font-style="normal" text-anchor="middle" fill="#000" stroke="#000" >60</text>
<line x1="235.10" y1="563" x2="235.10" y2="565.8" stroke="#111" stroke-width="1.2" />
<text x="235.10" y="575.8" font-size="7.3" font-weight="normal" font-style="normal" text-anchor="middle" fill="#000" stroke="#000" >80</text>
<line x1="250.50" y1="563" x2="250.50" y2="565.8" stroke="#111" stroke-width="1.2" />
<text x="250.50" y="575.8" font-size="7.3" font-weight="normal" font-style="normal" text-anchor="middle" fill="#000" stroke="#000" >100</text>
<line x1="265.90" y1="563" x2="265.90" y2="565.8" stroke="#111" stroke-width="1.2" />
<text x="265.90" y="575.8" font-size="7.3" font-weight="normal" font-style="normal" text-anchor="middle" fill="#000" stroke="#000" >120</text>
<text x="220.20" y="589.4" font-size="10.4" font-weight="normal" font-style="normal" text-anchor="middle" fill="#000" stroke="#000" textLength="28.8" lengthAdjust="spacingAndGlyphs">Months</text>
<text x="313.4" y="471.4" font-size="7.5" font-weight="bold" font-style="normal" text-anchor="start" fill="#000" stroke="#000"  style="stroke-width:0.08px">IPSS-R High</text>
<text x="351.2" y="488.2" font-size="7.5" fill="#000" stroke="#000"><tspan font-style="italic">P</tspan> = 0.10</text>
<line x1="285.4" y1="476.5" x2="285.4" y2="563.5" stroke="#111" stroke-width="1.4" />
<line x1="284.7" y1="562.9" x2="384.7" y2="562.9" stroke="#111" stroke-width="1.4" />
<line x1="282.59999999999997" y1="559.70" x2="285.4" y2="559.70" stroke="#111" stroke-width="1.2" />
<line x1="282.59999999999997" y1="539.70" x2="285.4" y2="539.70" stroke="#111" stroke-width="1.2" />
<line x1="282.59999999999997" y1="519.70" x2="285.4" y2="519.70" stroke="#111" stroke-width="1.2" />
<line x1="282.59999999999997" y1="499.70" x2="285.4" y2="499.70" stroke="#111" stroke-width="1.2" />
<line x1="282.59999999999997" y1="479.70" x2="285.4" y2="479.70" stroke="#111" stroke-width="1.2" />
<line x1="288.90" y1="563" x2="288.90" y2="565.8" stroke="#111" stroke-width="1.2" />
<text x="288.90" y="575.8" font-size="7.3" font-weight="normal" font-style="normal" text-anchor="middle" fill="#000" stroke="#000" >0</text>
<line x1="304.30" y1="563" x2="304.30" y2="565.8" stroke="#111" stroke-width="1.2" />
<text x="304.30" y="575.8" font-size="7.3" font-weight="normal" font-style="normal" text-anchor="middle" fill="#000" stroke="#000" >20</text>
<line x1="319.70" y1="563" x2="319.70" y2="565.8" stroke="#111" stroke-width="1.2" />
<text x="319.70" y="575.8" font-size="7.3" font-weight="normal" font-style="normal" text-anchor="middle" fill="#000" stroke="#000" >40</text>
<line x1="335.10" y1="563" x2="335.10" y2="565.8" stroke="#111" stroke-width="1.2" />
<text x="335.10" y="575.8" font-size="7.3" font-weight="normal" font-style="normal" text-anchor="middle" fill="#000" stroke="#000" >60</text>
<line x1="350.50" y1="563" x2="350.50" y2="565.8" stroke="#111" stroke-width="1.2" />
<text x="350.50" y="575.8" font-size="7.3" font-weight="normal" font-style="normal" text-anchor="middle" fill="#000" stroke="#000" >80</text>
<line x1="365.90" y1="563" x2="365.90" y2="565.8" stroke="#111" stroke-width="1.2" />
<text x="365.90" y="575.8" font-size="7.3" font-weight="normal" font-style="normal" text-anchor="middle" fill="#000" stroke="#000" >100</text>
<line x1="381.30" y1="563" x2="381.30" y2="565.8" stroke="#111" stroke-width="1.2" />
<text x="381.30" y="575.8" font-size="7.3" font-weight="normal" font-style="normal" text-anchor="middle" fill="#000" stroke="#000" >120</text>
<text x="335.60" y="589.4" font-size="10.4" font-weight="normal" font-style="normal" text-anchor="middle" fill="#000" stroke="#000" textLength="28.8" lengthAdjust="spacingAndGlyphs">Months</text>
<text x="419.6" y="471.4" font-size="7.5" font-weight="bold" font-style="normal" text-anchor="start" fill="#000" stroke="#000"  style="stroke-width:0.08px">IPSS-R Very High</text>
<text x="467" y="488.2" font-size="7.5" fill="#000" stroke="#000"><tspan font-style="italic">P</tspan> &lt; 0.001</text>
<line x1="400.5" y1="476.5" x2="400.5" y2="563.5" stroke="#111" stroke-width="1.4" />
<line x1="399.8" y1="562.9" x2="499.8" y2="562.9" stroke="#111" stroke-width="1.4" />
<line x1="397.7" y1="559.70" x2="400.5" y2="559.70" stroke="#111" stroke-width="1.2" />
<line x1="397.7" y1="539.70" x2="400.5" y2="539.70" stroke="#111" stroke-width="1.2" />
<line x1="397.7" y1="519.70" x2="400.5" y2="519.70" stroke="#111" stroke-width="1.2" />
<line x1="397.7" y1="499.70" x2="400.5" y2="499.70" stroke="#111" stroke-width="1.2" />
<line x1="397.7" y1="479.70" x2="400.5" y2="479.70" stroke="#111" stroke-width="1.2" />
<line x1="404.30" y1="563" x2="404.30" y2="565.8" stroke="#111" stroke-width="1.2" />
<text x="404.30" y="575.8" font-size="7.3" font-weight="normal" font-style="normal" text-anchor="middle" fill="#000" stroke="#000" >0</text>
<line x1="419.70" y1="563" x2="419.70" y2="565.8" stroke="#111" stroke-width="1.2" />
<text x="419.70" y="575.8" font-size="7.3" font-weight="normal" font-style="normal" text-anchor="middle" fill="#000" stroke="#000" >20</text>
<line x1="435.10" y1="563" x2="435.10" y2="565.8" stroke="#111" stroke-width="1.2" />
<text x="435.10" y="575.8" font-size="7.3" font-weight="normal" font-style="normal" text-anchor="middle" fill="#000" stroke="#000" >40</text>
<line x1="450.50" y1="563" x2="450.50" y2="565.8" stroke="#111" stroke-width="1.2" />
<text x="450.50" y="575.8" font-size="7.3" font-weight="normal" font-style="normal" text-anchor="middle" fill="#000" stroke="#000" >60</text>
<line x1="465.90" y1="563" x2="465.90" y2="565.8" stroke="#111" stroke-width="1.2" />
<text x="465.90" y="575.8" font-size="7.3" font-weight="normal" font-style="normal" text-anchor="middle" fill="#000" stroke="#000" >80</text>
<line x1="481.30" y1="563" x2="481.30" y2="565.8" stroke="#111" stroke-width="1.2" />
<text x="481.30" y="575.8" font-size="7.3" font-weight="normal" font-style="normal" text-anchor="middle" fill="#000" stroke="#000" >100</text>
<line x1="496.70" y1="563" x2="496.70" y2="565.8" stroke="#111" stroke-width="1.2" />
<text x="496.70" y="575.8" font-size="7.3" font-weight="normal" font-style="normal" text-anchor="middle" fill="#000" stroke="#000" >120</text>
<text x="451.00" y="589.4" font-size="10.4" font-weight="normal" font-style="normal" text-anchor="middle" fill="#000" stroke="#000" textLength="28.8" lengthAdjust="spacingAndGlyphs">Months</text>
<text x="48.3" y="562.60" font-size="8.2" font-weight="normal" font-style="normal" text-anchor="end" fill="#000" stroke="#000" >0</text>
<text x="48.3" y="542.60" font-size="8.2" font-weight="normal" font-style="normal" text-anchor="end" fill="#000" stroke="#000" >0.25</text>
<text x="48.3" y="522.60" font-size="8.2" font-weight="normal" font-style="normal" text-anchor="end" fill="#000" stroke="#000" >0.50</text>
<text x="48.3" y="502.60" font-size="8.2" font-weight="normal" font-style="normal" text-anchor="end" fill="#000" stroke="#000" >0.75</text>
<text x="48.3" y="482.60" font-size="8.2" font-weight="normal" font-style="normal" text-anchor="end" fill="#000" stroke="#000" >1</text>
<text transform="translate(16.1,521) rotate(-90)" font-size="9.8" text-anchor="middle" fill="#111" stroke="#111" style="stroke-width:0.1px" textLength="36.8" lengthAdjust="spacingAndGlyphs">Leukemic</text>
<text transform="translate(27.6,521.3) rotate(-90)" font-size="9.8" text-anchor="middle" fill="#111" stroke="#111" style="stroke-width:0.1px" textLength="56" lengthAdjust="spacingAndGlyphs">transformation</text>
<path d="M58.30,559.70 L144.54,559.70 L144.54,559.70" fill="none" stroke="#26334f" stroke-width="1.2" stroke-linejoin="miter"/>
<line x1="65.23" y1="558.00" x2="65.23" y2="561.40" stroke="#26334f" stroke-width="1.0" />
<line x1="68.08" y1="558.00" x2="68.08" y2="561.40" stroke="#26334f" stroke-width="1.0" />
<line x1="70.77" y1="558.00" x2="70.77" y2="561.40" stroke="#26334f" stroke-width="1.0" />
<line x1="73.70" y1="558.00" x2="73.70" y2="561.40" stroke="#26334f" stroke-width="1.0" />
<line x1="77.16" y1="558.00" x2="77.16" y2="561.40" stroke="#26334f" stroke-width="1.0" />
<line x1="81.78" y1="558.00" x2="81.78" y2="561.40" stroke="#26334f" stroke-width="1.0" />
<line x1="87.02" y1="558.00" x2="87.02" y2="561.40" stroke="#26334f" stroke-width="1.0" />
<line x1="92.18" y1="558.00" x2="92.18" y2="561.40" stroke="#26334f" stroke-width="1.0" />
<line x1="96.03" y1="558.00" x2="96.03" y2="561.40" stroke="#26334f" stroke-width="1.0" />
<line x1="98.72" y1="558.00" x2="98.72" y2="561.40" stroke="#26334f" stroke-width="1.0" />
<line x1="100.27" y1="558.00" x2="100.27" y2="561.40" stroke="#26334f" stroke-width="1.0" />
<line x1="102.19" y1="558.00" x2="102.19" y2="561.40" stroke="#26334f" stroke-width="1.0" />
<line x1="106.04" y1="558.00" x2="106.04" y2="561.40" stroke="#26334f" stroke-width="1.0" />
<line x1="109.50" y1="558.00" x2="109.50" y2="561.40" stroke="#26334f" stroke-width="1.0" />
<line x1="116.44" y1="558.00" x2="116.44" y2="561.40" stroke="#26334f" stroke-width="1.0" />
<line x1="118.75" y1="558.00" x2="118.75" y2="561.40" stroke="#26334f" stroke-width="1.0" />
<line x1="122.21" y1="558.00" x2="122.21" y2="561.40" stroke="#26334f" stroke-width="1.0" />
<line x1="129.14" y1="558.00" x2="129.14" y2="561.40" stroke="#26334f" stroke-width="1.0" />
<line x1="137.22" y1="558.00" x2="137.22" y2="561.40" stroke="#26334f" stroke-width="1.0" />
<line x1="139.53" y1="558.00" x2="139.53" y2="561.40" stroke="#26334f" stroke-width="1.0" />
<line x1="144.54" y1="558.00" x2="144.54" y2="561.40" stroke="#26334f" stroke-width="1.0" />
<path d="M58.30,559.70 L60.61,559.70 L60.61,550.90 L106.81,550.90 L106.81,550.90" fill="none" stroke="#7e1434" stroke-width="1.5" stroke-linejoin="miter"/>
<line x1="58.68" y1="558.00" x2="58.68" y2="561.40" stroke="#7e1434" stroke-width="1.0" />
<line x1="67.23" y1="549.20" x2="67.23" y2="552.60" stroke="#7e1434" stroke-width="1.0" />
<line x1="73.31" y1="549.20" x2="73.31" y2="552.60" stroke="#7e1434" stroke-width="1.0" />
<line x1="86.79" y1="549.20" x2="86.79" y2="552.60" stroke="#7e1434" stroke-width="1.0" />
<line x1="89.87" y1="549.20" x2="89.87" y2="552.60" stroke="#7e1434" stroke-width="1.0" />
<line x1="106.81" y1="549.20" x2="106.81" y2="552.60" stroke="#7e1434" stroke-width="1.0" />
<path d="M173.50,559.70 L189.28,559.70 L189.28,555.14 L203.91,555.14 L203.91,550.90 L214.08,550.90 L214.08,542.90 L264.36,542.90 L264.36,542.90" fill="none" stroke="#26334f" stroke-width="1.4" stroke-linejoin="miter"/>
<line x1="264.36" y1="541.20" x2="264.36" y2="544.60" stroke="#26334f" stroke-width="1.0" />
<path d="M173.50,559.70 L189.28,559.70 L189.28,555.14 L203.91,555.14 L203.91,550.90 L214.08,550.90 L214.08,542.90 L232.25,542.90 L232.25,542.90" fill="none" stroke="#7e1434" stroke-width="1.5" stroke-linejoin="miter"/>
<line x1="174.66" y1="558.00" x2="174.66" y2="561.40" stroke="#7e1434" stroke-width="1.0" />
<line x1="176.19" y1="558.00" x2="176.19" y2="561.40" stroke="#7e1434" stroke-width="1.0" />
<line x1="177.74" y1="558.00" x2="177.74" y2="561.40" stroke="#7e1434" stroke-width="1.0" />
<line x1="179.66" y1="558.00" x2="179.66" y2="561.40" stroke="#7e1434" stroke-width="1.0" />
<line x1="181.97" y1="558.00" x2="181.97" y2="561.40" stroke="#7e1434" stroke-width="1.0" />
<line x1="184.28" y1="558.00" x2="184.28" y2="561.40" stroke="#7e1434" stroke-width="1.0" />
<line x1="190.44" y1="553.44" x2="190.44" y2="556.84" stroke="#7e1434" stroke-width="1.0" />
<line x1="192.75" y1="553.44" x2="192.75" y2="556.84" stroke="#7e1434" stroke-width="1.0" />
<line x1="195.06" y1="553.44" x2="195.06" y2="556.84" stroke="#7e1434" stroke-width="1.0" />
<line x1="197.37" y1="553.44" x2="197.37" y2="556.84" stroke="#7e1434" stroke-width="1.0" />
<line x1="205.84" y1="549.20" x2="205.84" y2="552.60" stroke="#7e1434" stroke-width="1.0" />
<line x1="208.15" y1="549.20" x2="208.15" y2="552.60" stroke="#7e1434" stroke-width="1.0" />
<line x1="210.46" y1="549.20" x2="210.46" y2="552.60" stroke="#7e1434" stroke-width="1.0" />
<line x1="218.93" y1="541.20" x2="218.93" y2="544.60" stroke="#7e1434" stroke-width="1.0" />
<line x1="222.78" y1="541.20" x2="222.78" y2="544.60" stroke="#7e1434" stroke-width="1.0" />
<line x1="226.63" y1="541.20" x2="226.63" y2="544.60" stroke="#7e1434" stroke-width="1.0" />
<line x1="232.25" y1="541.20" x2="232.25" y2="544.60" stroke="#7e1434" stroke-width="1.0" />
<path d="M288.90,559.70 L289.13,559.70 L289.13,557.62 L291.98,557.62 L291.98,557.30 L295.83,557.30 L295.83,556.98 L301.22,556.98 L301.22,556.50 L303.76,556.50 L303.76,553.30 L306.07,553.30 L306.07,550.10 L313.54,550.10 L313.54,547.22 L349.42,547.22 L349.42,547.22" fill="none" stroke="#26334f" stroke-width="1.3" stroke-linejoin="miter"/>
<line x1="290.44" y1="555.92" x2="290.44" y2="559.32" stroke="#26334f" stroke-width="1.0" />
<line x1="292.75" y1="555.60" x2="292.75" y2="559.00" stroke="#26334f" stroke-width="1.0" />
<line x1="294.29" y1="555.60" x2="294.29" y2="559.00" stroke="#26334f" stroke-width="1.0" />
<line x1="296.60" y1="555.28" x2="296.60" y2="558.68" stroke="#26334f" stroke-width="1.0" />
<line x1="298.14" y1="555.28" x2="298.14" y2="558.68" stroke="#26334f" stroke-width="1.0" />
<line x1="299.68" y1="555.28" x2="299.68" y2="558.68" stroke="#26334f" stroke-width="1.0" />
<line x1="324.47" y1="545.52" x2="324.47" y2="548.92" stroke="#26334f" stroke-width="1.0" />
<line x1="330.33" y1="545.52" x2="330.33" y2="548.92" stroke="#26334f" stroke-width="1.0" />
<line x1="349.42" y1="545.52" x2="349.42" y2="548.92" stroke="#26334f" stroke-width="1.0" />
<path d="M288.90,559.70 L289.13,559.70 L289.13,550.10 L294.52,550.10 L294.52,543.70 L301.99,543.70 L301.99,535.70 L303.76,535.70 L303.76,527.70 L306.07,527.70 L306.07,518.42 L313.54,518.42 L313.54,510.10 L319.85,510.10 L319.85,510.10" fill="none" stroke="#7e1434" stroke-width="1.5" stroke-linejoin="miter"/>
<line x1="290.44" y1="548.40" x2="290.44" y2="551.80" stroke="#7e1434" stroke-width="1.0" />
<line x1="291.98" y1="548.40" x2="291.98" y2="551.80" stroke="#7e1434" stroke-width="1.0" />
<line x1="298.14" y1="542.00" x2="298.14" y2="545.40" stroke="#7e1434" stroke-width="1.0" />
<line x1="300.45" y1="542.00" x2="300.45" y2="545.40" stroke="#7e1434" stroke-width="1.0" />
<line x1="319.85" y1="508.40" x2="319.85" y2="511.80" stroke="#7e1434" stroke-width="1.0" />
<path d="M404.30,559.70 L447.57,559.70 L447.57,559.70" fill="none" stroke="#26334f" stroke-width="1.3" stroke-linejoin="miter"/>
<line x1="423.70" y1="558.00" x2="423.70" y2="561.40" stroke="#26334f" stroke-width="1.0" />
<line x1="447.57" y1="558.00" x2="447.57" y2="561.40" stroke="#26334f" stroke-width="1.0" />
<path d="M404.30,559.70 L404.69,559.70 L404.69,558.90 L408.00,558.90 L408.00,542.10 L410.00,542.10 L410.00,524.50 L423.40,524.50 L423.40,506.10 L425.01,506.10 L425.01,506.10" fill="none" stroke="#7e1434" stroke-width="1.5" stroke-linejoin="miter"/>
<line x1="405.07" y1="557.20" x2="405.07" y2="560.60" stroke="#7e1434" stroke-width="1.0" />
<line x1="406.61" y1="557.20" x2="406.61" y2="560.60" stroke="#7e1434" stroke-width="1.0" />
<line x1="425.01" y1="504.40" x2="425.01" y2="507.80" stroke="#7e1434" stroke-width="1.0" />
<text x="94.6" y="543.8" font-size="7.5" font-weight="normal" font-style="normal" text-anchor="start" fill="#963a5c" stroke="#963a5c" >IMP</text>
<text x="118.9" y="554.9" font-size="7.5" font-weight="normal" font-style="normal" text-anchor="start" fill="#43547a" stroke="#43547a" >EMK</text>
<text x="212.6" y="537" font-size="7.5" font-weight="normal" font-style="normal" text-anchor="start" fill="#963a5c" stroke="#963a5c" >IMP</text>
<text x="235.9" y="552.3" font-size="7.5" font-weight="normal" font-style="normal" text-anchor="start" fill="#43547a" stroke="#43547a" >EMK</text>
<text x="327.7" y="512.7" font-size="7.5" font-weight="normal" font-style="normal" text-anchor="start" fill="#963a5c" stroke="#963a5c" >IMP</text>
<text x="352.1" y="541.5" font-size="7.5" font-weight="normal" font-style="normal" text-anchor="start" fill="#43547a" stroke="#43547a" >EMK</text>
<text x="438.7" y="508" font-size="7.5" font-weight="normal" font-style="normal" text-anchor="start" fill="#963a5c" stroke="#963a5c" >IMP</text>
<text x="456.4" y="556.8" font-size="7.5" font-weight="normal" font-style="normal" text-anchor="start" fill="#43547a" stroke="#43547a" >EMK</text>
</svg>
</body></html>
